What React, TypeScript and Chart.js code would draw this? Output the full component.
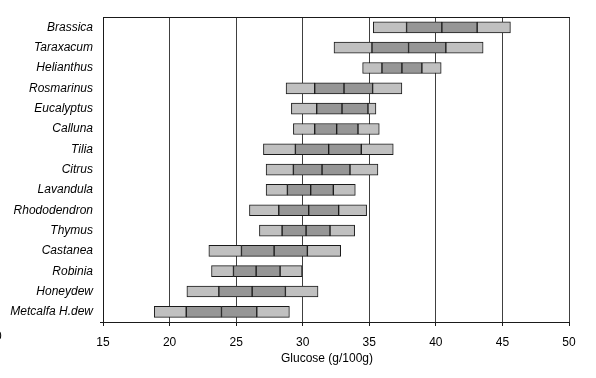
import React, { useEffect, useRef } from "react";
import { Chart, registerables } from "chart.js";

Chart.register(...registerables);

const categories = [
  "Brassica", "Taraxacum", "Helianthus", "Rosmarinus", "Eucalyptus", "Calluna", "Tilia",
  "Citrus", "Lavandula", "Rhododendron", "Thymus", "Castanea", "Robinia", "Honeydew", "Metcalfa H.dew",
];
const minV = [35.3, 32.35, 34.5, 28.75, 29.15, 29.3, 27.05, 27.25, 27.25, 26.0, 26.75, 22.95, 23.15, 21.3, 18.85];
const lowV = [37.8, 35.2, 35.95, 30.9, 31.05, 30.9, 29.45, 29.3, 28.85, 28.2, 28.45, 25.4, 24.8, 23.7, 21.25];
const medV = [40.45, 37.95, 37.45, 33.1, 32.95, 32.55, 31.95, 31.45, 30.6, 30.45, 30.25, 27.85, 26.5, 26.2, 23.9];
const highV = [43.1, 40.75, 38.95, 35.25, 34.9, 34.15, 34.4, 33.55, 32.3, 32.7, 32.05, 30.35, 28.3, 28.7, 26.55];
const maxV = [45.6, 43.55, 40.4, 37.45, 35.5, 35.75, 36.8, 35.65, 33.95, 34.8, 33.9, 32.85, 29.95, 31.15, 29.0];
const xTicks = { min: 15, max: 50, step: 5 };
const xTitle = "Glucose (g/100g)";

const LIGHT = "#c0c0c0";
const DARK = "#969696";
const EDGE = "#1a1a1a";
const FONT = "'Liberation Sans', Arial, sans-serif";

const pair = (a: number[], b: number[]) => a.map((v, i) => [v, b[i]]);

export default function App() {
  const ref = useRef<HTMLCanvasElement | null>(null);
  useEffect(() => {
    document.body.style.margin = "0";
    const ctx = ref.current!.getContext("2d")!;
    const mk = (data: number[][], color: string) => ({
      data,
      backgroundColor: color,
      borderColor: EDGE,
      borderWidth: 1,
      borderSkipped: false,
      barThickness: 11,
      grouped: false,
    });
    const extras = {
      id: "extras",
      afterDraw(chart: any) {
        const c = chart.ctx;
        const a = chart.chartArea;
        c.save();
        c.strokeStyle = EDGE;
        c.lineWidth = 1;
        c.beginPath();
        c.moveTo(Math.round(a.left) - 3, Math.round(a.bottom) + 0.5);
        c.lineTo(Math.round(a.left), Math.round(a.bottom) + 0.5);
        c.moveTo(Math.round(a.left), Math.round(a.top) + 0.5);
        c.lineTo(Math.round(a.right) + 1, Math.round(a.top) + 0.5);
        c.stroke();
        c.fillStyle = "#000";
        c.font = `12px ${FONT}`;
        c.textAlign = "center";
        c.textBaseline = "middle";
        c.fillText(xTitle, 327, 359);
        c.textAlign = "left";
        c.fillText("0", -5, 337);
        c.restore();
      },
    };
    const chart = new Chart(ctx, {
      type: "bar",
      data: {
        labels: categories,
        datasets: [
          mk(pair(minV, lowV), LIGHT),
          mk(pair(lowV, medV), DARK),
          mk(pair(medV, highV), DARK),
          mk(pair(highV, maxV), LIGHT),
        ],
      },
      options: {
        indexAxis: "y",
        animation: false,
        responsive: false,
        maintainAspectRatio: false,
        layout: { padding: { top: 15, right: 27, left: 0, bottom: 0 } },
        plugins: { legend: { display: false }, tooltip: { enabled: false } },
        scales: {
          x: {
            type: "linear",
            min: xTicks.min,
            max: xTicks.max,
            ticks: { stepSize: xTicks.step, color: "#000", font: { family: FONT, size: 12 }, padding: 9 },
            grid: { color: "#404040", tickColor: EDGE, tickLength: 4, lineWidth: 1 },
            border: { display: true, color: EDGE, width: 1 },
            afterFit: (s: any) => { s.height = 56; },
          },
          y: {
            type: "category",
            stacked: true,
            ticks: { color: "#000", font: { family: FONT, size: 12, style: "italic" }, padding: 10 },
            grid: { display: true, drawOnChartArea: false, drawTicks: false },
            border: { display: true, color: EDGE, width: 1 },
            afterFit: (s: any) => { s.width = 103; },
          },
        },
      },
      plugins: [extras],
    });
    return () => chart.destroy();
  }, []);
  return <canvas ref={ref} width={596} height={378} style={{ display: "block" }} />;
}
